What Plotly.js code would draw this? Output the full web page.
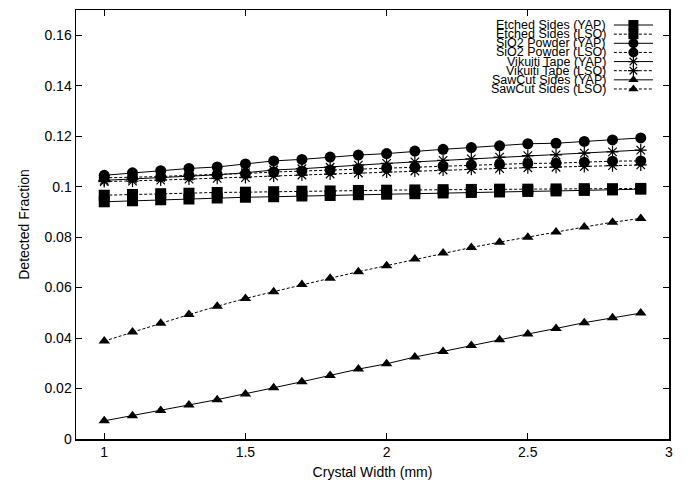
<!DOCTYPE html>
<html>
<head>
<meta charset="utf-8">
<script src="https://cdn.plot.ly/plotly-3.0.1.min.js"></script>
<style>html,body{margin:0;padding:0;background:#fff;}#chart{width:688px;height:484px;}</style>
</head>
<body>
<div id="chart"></div>
<script>
// Crystal width (mm)
const crystalWidth = [1.0,1.1,1.2,1.3,1.4,1.5,1.6,1.7,1.8,1.9,2.0,2.1,2.2,2.3,2.4,2.5,2.6,2.7,2.8,2.9];

// Detected fraction per surface treatment
const etchedYAP = [0.0940,0.0944,0.0948,0.0951,0.0955,0.0958,0.0960,0.0963,0.0965,0.0968,0.0970,0.0972,0.0975,0.0977,0.0979,0.0981,0.0983,0.0985,0.0987,0.0990];
const etchedLSO = [0.0966,0.0969,0.0972,0.0974,0.0977,0.0978,0.0980,0.0982,0.0983,0.0985,0.0986,0.0987,0.0988,0.0989,0.0990,0.0990,0.0991,0.0992,0.0992,0.0993];
const sio2YAP   = [0.1045,0.1055,0.1063,0.1072,0.1078,0.1090,0.1102,0.1108,0.1117,0.1125,0.1131,0.1141,0.1148,0.1155,0.1162,0.1170,0.1172,0.1179,0.1185,0.1193];
const sio2LSO   = [0.1035,0.1037,0.1040,0.1045,0.1048,0.1052,0.1058,0.1062,0.1066,0.1070,0.1074,0.1077,0.1082,0.1086,0.1088,0.1092,0.1093,0.1097,0.1101,0.1102];
const vikuitiYAP= [0.1025,0.1030,0.1036,0.1042,0.1047,0.1055,0.1066,0.1071,0.1077,0.1085,0.1092,0.1098,0.1104,0.1110,0.1117,0.1123,0.1126,0.1133,0.1138,0.1145];
const vikuitiLSO= [0.1020,0.1022,0.1026,0.1030,0.1033,0.1036,0.1042,0.1046,0.1050,0.1054,0.1058,0.1062,0.1066,0.1069,0.1072,0.1075,0.1077,0.1080,0.1083,0.1086];
const sawcutYAP = [0.0072,0.0092,0.0113,0.0135,0.0156,0.0178,0.0203,0.0227,0.0252,0.0277,0.0298,0.0325,0.0347,0.0371,0.0393,0.0416,0.0438,0.0461,0.0480,0.0499];
const sawcutLSO = [0.0388,0.0424,0.0459,0.0493,0.0526,0.0557,0.0584,0.0612,0.0637,0.0663,0.0687,0.0713,0.0737,0.0759,0.0780,0.0799,0.0820,0.0840,0.0859,0.0874];

const seriesNames = ["Etched Sides (YAP)","Etched Sides (LSO)","SiO2 Powder (YAP)","SiO2 Powder (LSO)","Vikuiti Tape (YAP)","Vikuiti Tape (LSO)","SawCut Sides (YAP)","SawCut Sides (LSO)"];
const xTicks = [1,1.5,2,2.5,3];
const yTicks = [0,0.02,0.04,0.06,0.08,0.1,0.12,0.14,0.16];

const seriesValues = [etchedYAP,etchedLSO,sio2YAP,sio2LSO,vikuitiYAP,vikuitiLSO,sawcutYAP,sawcutLSO];
const symbols = ["square","square","circle","circle","asterisk-open","asterisk-open","triangle-up","triangle-up"];
const sizes = [11,11,11,11,10,10,10,10];
const dashes = ["solid","3px,2px","solid","3px,2px","solid","3px,2px","solid","3px,2px"];
const FONT = 'Liberation Sans, Arial, Helvetica, sans-serif';

const traces = [];
seriesValues.forEach((vals,i)=>{
  traces.push({
    x: crystalWidth, y: vals, type:'scatter', mode:'lines+markers', name: seriesNames[i],
    line:{color:'#000', width:1, dash:dashes[i]},
    marker:{symbol:symbols[i], size:sizes[i], color:'#000', line:{color:'#000', width: symbols[i]==='asterisk-open'?1.2:0}},
    showlegend:false, hoverinfo:'skip'
  });
});

// Legend key (gnuplot style: text right-aligned, sample on the right)
const keyTop = 0.965, keyStep = 0.0213;
const annotations = [];
seriesNames.forEach((nm,i)=>{
  const yy = keyTop - i*keyStep;
  traces.push({
    x:[0.907,0.973], y:[yy,yy], xaxis:'x2', yaxis:'y2', type:'scatter', mode:'lines',
    line:{color:'#000', width:1, dash:dashes[i]}, showlegend:false, hoverinfo:'skip'
  });
  traces.push({
    x:[0.940], y:[yy], xaxis:'x2', yaxis:'y2', type:'scatter', mode:'markers',
    marker:{symbol:symbols[i], size:sizes[i]-1, color:'#000', line:{color:'#000', width: symbols[i]==='asterisk-open'?1.2:0}},
    showlegend:false, hoverinfo:'skip'
  });
  annotations.push({xref:'paper', yref:'paper', x:0.897, y:yy, xanchor:'right', yanchor:'middle',
    text:nm, showarrow:false, font:{family:FONT, size:12.5, color:'#000'}});
});

const layout = {
  width:688, height:484,
  margin:{l:76, r:19, t:10, b:45, pad:0},
  paper_bgcolor:'#fff', plot_bgcolor:'#fff',
  font:{family:FONT, size:14, color:'#000'},
  showlegend:false,
  xaxis:{range:[0.9,3], tickvals:xTicks, ticks:'inside', ticklen:6, tickwidth:1, tickcolor:'#000',
    showline:true, linecolor:'#000', linewidth:1.5, mirror:'ticks', showgrid:false, zeroline:false,
    tickfont:{size:14}, title:{text:'Crystal Width (mm)', font:{size:14}, standoff:8}},
  yaxis:{range:[0,0.17], tickvals:yTicks, ticks:'inside', ticklen:6, tickwidth:1, tickcolor:'#000',
    showline:true, linecolor:'#000', linewidth:1.5, mirror:'ticks', showgrid:false, zeroline:false,
    tickfont:{size:14}, title:{text:'Detected Fraction', font:{size:14}, standoff:11}},
  xaxis2:{overlaying:'x', range:[0,1], visible:false, fixedrange:true},
  yaxis2:{overlaying:'y', range:[0,1], visible:false, fixedrange:true},
  annotations: annotations
};
Plotly.newPlot('chart', traces, layout, {staticPlot:true, displayModeBar:false});
</script>
</body>
</html>
